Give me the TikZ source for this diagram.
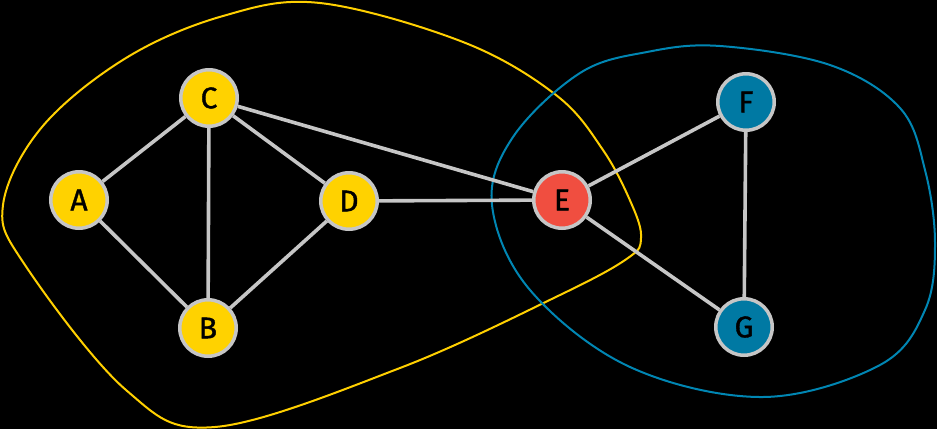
\documentclass[tikz,border=0pt]{standalone}
\usepackage{fontspec}
\setmainfont{Fira Sans}
\begin{document}
\begin{tikzpicture}[x=1pt,y=-1pt,
  vtx/.style={circle,draw=edgegray,line width=3.5pt,minimum size=56.5pt,inner sep=0pt,font=\fontsize{30}{30}\selectfont\addfontfeature{FakeBold=1.2}},
  yel/.style={vtx,fill=nodeyellow},
  red/.style={vtx,fill=nodered},
  blu/.style={vtx,fill=nodeblue},
  edge/.style={draw=edgegray,line width=3.6pt},
  hull/.style={line width=2pt}]
\definecolor{edgegray}{HTML}{C6C6C6}
\definecolor{nodeyellow}{HTML}{FFD200}
\definecolor{nodered}{HTML}{F04E40}
\definecolor{nodeblue}{HTML}{0079A3}
\definecolor{hullyellow}{HTML}{FFD000}
\definecolor{hullblue}{HTML}{0086B3}
\fill[black] (0,0) rectangle (937,429);
\useasboundingbox (0,0) rectangle (937,429);
% hulls
\draw[hull,hullyellow] plot[smooth cycle,tension=0.6] coordinates {(320,3) (463,42) (556,95) (603,150) (632,205) (641,238) (628,258) (560,295) (400,368) (215,427) (126,390) (25,265) (3,205) (42,127) (126,58) (223,16)};
\draw[hull,hullblue] plot[smooth cycle,tension=0.6] coordinates {(720,46) (830,65) (900,108) (925,170) (935,243) (925,310) (880,365) (763,397) (630,367) (530,290) (492,205) (513,137) (580,73) (647,52)};
% nodes
\node[yel] (A) at (79,200) {A};
\node[yel] (C) at (209,98) {C};
\node[yel] (D) at (349,201) {D};
\node[yel] (B) at (208,328) {B};
\node[red] (E) at (562,200) {E};
\node[blu] (F) at (746,102) {F};
\node[blu] (G) at (744,327) {G};
% edges
\draw[edge] (A) -- (C);
\draw[edge] (A) -- (B);
\draw[edge] (C) -- (B);
\draw[edge] (C) -- (D);
\draw[edge] (D) -- (B);
\draw[edge] (C) -- (E);
\draw[edge] (D) -- (E);
\draw[edge] (E) -- (F);
\draw[edge] (E) -- (G);
\draw[edge] (F) -- (G);
\end{tikzpicture}
\end{document}
